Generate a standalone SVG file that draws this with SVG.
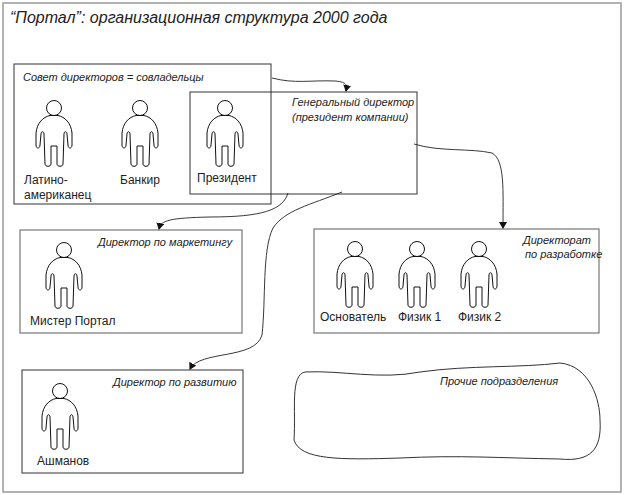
<svg xmlns="http://www.w3.org/2000/svg" width="624" height="495" viewBox="0 0 624 495">
<style>
.box{fill:none;stroke:#333;stroke-width:1}
.gbox{fill:none;stroke:#777;stroke-width:1.2}
.con{fill:none;stroke:#222;stroke-width:0.9}
.it{font-family:"Liberation Sans",Arial,sans-serif;font-style:italic;font-size:11px;fill:#222}
.lb{font-family:"Liberation Sans",Arial,sans-serif;font-size:12px;fill:#222}
.p{fill:#fff;stroke:#111;stroke-width:1}
</style>
<defs>
<marker id="ar" markerWidth="8" markerHeight="8" refX="6" refY="4" orient="auto" markerUnits="userSpaceOnUse"><path d="M0,0 L7,4 L0,8 Z" fill="#111"/></marker>
<g id="man">
<circle class="p" cx="0" cy="8" r="7.5"/>
<path class="p" d="M-4,15.5 C-11,17 -17,23 -18,33 L-18,45 C-18,49 -14,49 -14,45 L-13,34 C-13,31 -10,31 -10,34 L-9,64 C-9,67 -3,67 -3,64 L-3,46 L3,46 L3,64 C3,67 9,67 9,64 L10,34 C10,31 13,31 13,34 L14,45 C14,49 18,49 18,45 L18,33 C17,23 11,17 4,15.5 Z"/>
</g>
</defs>
<rect x="3" y="3" width="618" height="489" fill="none" stroke="#999" stroke-width="1.5"/>
<text x="10" y="23" font-family="Liberation Sans,Arial,sans-serif" font-style="italic" font-size="16" fill="#222">“Портал”: организационная структура 2000 года</text>

<g id="board">
<rect class="box" x="14" y="64" width="257" height="140"/>
<text class="it" x="23" y="81">Совет директоров = совладельцы</text>
<use href="#man" x="54" y="100"/>
<text class="lb" x="24" y="184">Латино-</text>
<text class="lb" x="24" y="199">американец</text>
<use href="#man" x="140" y="100"/>
<text class="lb" x="120" y="184">Банкир</text>
</g>
<g id="gd">
<rect class="box" x="190" y="92" width="227" height="102"/>
<text class="it" x="292" y="106">Генеральный директор</text>
<text class="it" x="292" y="121">(президент компании)</text>
<use href="#man" x="225" y="100"/>
<text class="lb" x="197" y="182">Президент</text>
</g>
<g id="marketing">
<rect class="gbox" x="20" y="230" width="222" height="103"/>
<text class="it" x="98" y="246">Директор по маркетингу</text>
<use href="#man" x="64" y="242"/>
<text class="lb" x="30" y="325">Мистер Портал</text>
</g>
<g id="devdir">
<rect class="gbox" x="314" y="229" width="285" height="104"/>
<text class="it" x="523" y="244">Директорат</text>
<text class="it" x="525" y="258">по разработке</text>
<use href="#man" x="355" y="241"/>
<text class="lb" x="320" y="321">Основатель</text>
<use href="#man" x="417" y="241"/>
<text class="lb" x="398" y="321">Физик 1</text>
<use href="#man" x="479" y="241"/>
<text class="lb" x="458" y="321">Физик 2</text>
</g>
<g id="development">
<rect class="box" x="22" y="370" width="221" height="103"/>
<text class="it" x="113" y="386">Директор по развитию</text>
<use href="#man" x="60" y="383"/>
<text class="lb" x="37" y="465">Ашманов</text>
</g>
<g id="other">
<path class="box" d="M305,372 C340,370 380,380 420,372 C470,365 520,368 560,363 C590,366 600,400 600,420 C602,450 590,462 560,459 C500,458 460,455 400,458 C340,460 300,460 294,440 C296,410 290,375 305,372 Z"/>
<text class="it" x="440" y="385">Прочие подразделения</text>
</g>
<g id="connectors">
<path class="con" d="M272,78 C295,84 310,80 335,81 C348,82 347,86 346,91" marker-end="url(#ar)"/>
<path class="con" d="M414,144 C440,152 470,148 492,153 C505,160 503,190 503,228" marker-end="url(#ar)"/>
<path class="con" d="M288,193 C283,210 262,217 210,217 C170,218 161,220 159,229" marker-end="url(#ar)"/>
<path class="con" d="M342,192 C310,205 285,210 273,228 C262,250 266,300 262,335 C255,360 200,350 190,369" marker-end="url(#ar)"/>
</g>
</svg>
